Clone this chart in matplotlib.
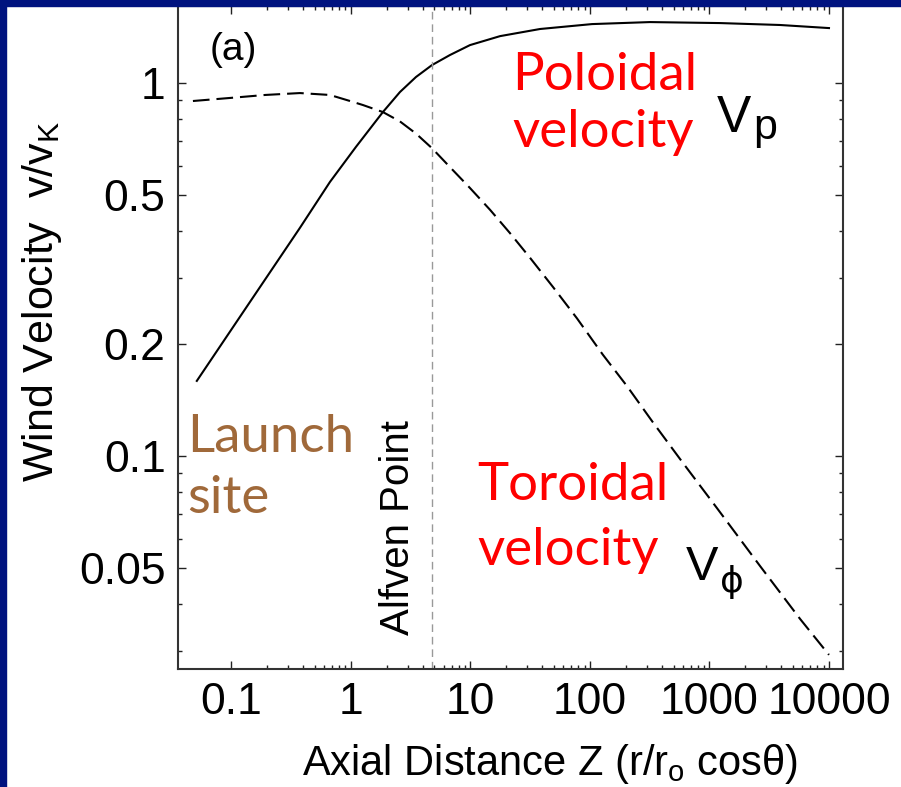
import matplotlib
matplotlib.use("Agg")
import matplotlib.pyplot as plt
from matplotlib.patches import Rectangle
from matplotlib.ticker import FixedLocator, FixedFormatter, LogLocator, NullFormatter

plt.rcParams['font.family'] = ['Liberation Sans', 'DejaVu Sans']
plt.rcParams['mathtext.fontset'] = 'custom'
plt.rcParams['mathtext.rm'] = 'Liberation Sans'
plt.rcParams['mathtext.it'] = 'Liberation Sans:italic'
plt.rcParams['lines.scale_dashes'] = False

# poloidal wind speed v_p / v_K along the jet axis
z_pol = [0.0513, 0.143, 0.374, 0.667, 1.10, 1.85, 2.57, 3.50, 4.76, 6.74, 9.91,
         17.7, 38.2, 104, 318, 1230, 3890, 10000]
v_pol = [0.159, 0.259, 0.409, 0.543, 0.674, 0.836, 0.946, 1.038, 1.117, 1.189, 1.264,
         1.336, 1.396, 1.439, 1.457, 1.448, 1.431, 1.404]

# toroidal speed v_phi / v_K
z_tor = [0.0476, 0.0971, 0.191, 0.374, 0.667, 0.981, 1.26, 1.85, 2.57, 3.50, 4.76,
         6.74, 9.91, 14.6, 21.4, 31.5, 49.0, 77.8, 128, 204, 337, 600, 1155, 2650, 5720, 10000]
v_tor = [0.895, 0.912, 0.929, 0.940, 0.929, 0.895, 0.873, 0.836, 0.789, 0.732, 0.669,
         0.595, 0.523, 0.457, 0.396, 0.340, 0.284, 0.234, 0.187, 0.154, 0.123, 0.0958, 0.0725, 0.0507, 0.0366, 0.0293]

z_alfven = 4.76

xticks = [0.1, 1, 10, 100, 1000, 10000]
xticklabels = ['0.1', '1', '10', '100', '1000', '10000']
xminor = [m * 10.0 ** e for e in range(-1, 4) for m in range(2, 10)]
yticks = [0.05, 0.1, 0.2, 0.5, 1]
yticklabels = ['0.05', '0.1', '0.2', '0.5', '1']

W, H = 901, 787
fig = plt.figure(figsize=(W / 100, H / 100), dpi=100)
fig.patch.set_facecolor('white')
ax = fig.add_axes([178 / W, 1 - 669 / H, (843 - 178) / W, (669 - 6) / H])

ax.plot(z_pol, v_pol, color='black', lw=1.5)
ax.plot(z_tor, v_tor, color='black', lw=1.5, dashes=[12, 5])
ax.axvline(z_alfven, color='#999999', lw=1.0, dashes=[5.5, 3.5])

ax.set_xscale('log')
ax.set_yscale('log')
ax.set_xlim(0.0357, 13100)
ax.set_ylim(0.02685, 1.609)

ax.xaxis.set_major_locator(FixedLocator(xticks))
ax.xaxis.set_major_formatter(FixedFormatter(xticklabels))
ax.xaxis.set_minor_locator(FixedLocator(xminor))
ax.xaxis.set_minor_formatter(NullFormatter())
ax.yaxis.set_major_locator(FixedLocator(yticks))
ax.yaxis.set_major_formatter(FixedFormatter(yticklabels))
ax.yaxis.set_minor_locator(LogLocator(base=10, subs=range(2, 10), numticks=20))
ax.yaxis.set_minor_formatter(NullFormatter())

ax.tick_params(which='both', direction='in', top=True, right=True, width=1.0, color='#222222')
ax.tick_params(which='major', length=6, labelsize=32, pad=9)
ax.tick_params(which='minor', length=3)
for s in ax.spines.values():
    s.set_linewidth(1.5)
    s.set_color('#333333')

ax.set_xlabel('Axial Distance Z (r/r$_\\mathregular{o}$ cos\u03b8)', fontsize=30)
ax.xaxis.set_label_coords(0.56, -0.11)
ax.set_ylabel('Wind Velocity  v/v$_\\mathregular{K}$', fontsize=31)
ax.yaxis.set_label_coords(-0.171, 0.555)


def px(x, y):
    return x / W, 1 - y / H


fig.text(*px(233, 50), '(a)', fontsize=28, ha='center', va='center')
fig.text(*px(417, 528), 'Alfven Point', fontsize=29, rotation=90, ha='right', va='center')

note = dict(family='Lato', fontsize=38, ha='left', va='baseline')
fig.text(*px(512, 90), 'Poloidal', color='#ff0000', **note)
fig.text(*px(512, 147), 'velocity', color='#ff0000', **note)
fig.text(*px(477, 500), 'Toroidal', color='#ff0000', **note)
fig.text(*px(477, 565), 'velocity', color='#ff0000', **note)
fig.text(*px(187, 452), 'Launch', color='#a0693a', **note)
fig.text(*px(187, 513), 'site', color='#a0693a', **note)

fig.text(*px(717, 132), 'V', fontsize=37, ha='left', va='baseline')
fig.text(*px(753, 139), 'p', fontsize=31, ha='left', va='baseline')
fig.text(*px(686, 580), 'V', fontsize=35, ha='left', va='baseline')
fig.text(*px(720, 592), '\u03d5', family='DejaVu Sans', fontsize=26, ha='left', va='baseline')

# dark frame along the top and left edges
navy = '#00137f'
fig.add_artist(Rectangle((0, 1 - 6 / H), 1, 6 / H, transform=fig.transFigure, color=navy, zorder=10))
fig.add_artist(Rectangle((0, 0), 6 / W, 1, transform=fig.transFigure, color=navy, zorder=10))

fig.savefig('out.png', dpi=100)
